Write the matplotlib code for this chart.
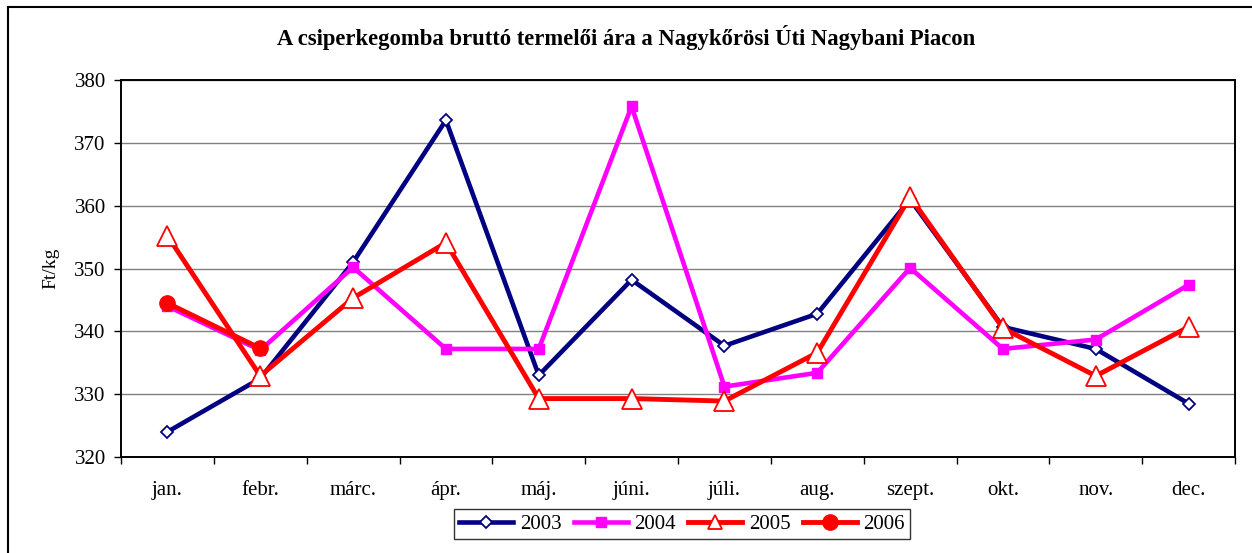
import matplotlib
matplotlib.use("Agg")
import matplotlib.pyplot as plt
from matplotlib.lines import Line2D
import numpy as np

months = ["jan.", "febr.", "márc.", "ápr.", "máj.", "júni.", "júli.", "aug.",
          "szept.", "okt.", "nov.", "dec."]
y2003 = [324.0, 332.5, 351.0, 373.6, 333.0, 348.2, 337.7, 342.8, 361.0, 340.7, 337.2, 328.5]
y2004 = [344.0, 337.0, 350.2, 337.2, 337.2, 375.8, 331.2, 333.4, 350.1, 337.2, 338.7, 347.4]
y2005 = [355.2, 332.9, 345.3, 354.1, 329.3, 329.3, 328.9, 336.6, 361.4, 340.5, 332.9, 340.7]
y2006 = [344.5, 337.3]
series_names = ["2003", "2004", "2005", "2006"]
yticks = [320, 330, 340, 350, 360, 370, 380]

plt.rcParams['font.family'] = ['Liberation Serif', 'DejaVu Serif']

W, H = 1252, 553
fig = plt.figure(figsize=(W / 100, H / 100), dpi=100)
ax = fig.add_axes([121 / W, 1 - 457 / H, (1235 - 121) / W, (457 - 80) / H])

x = np.arange(len(months))
navy = "#000080"
mag = "#FF00FF"
red = "#FF0000"

ax.plot(x, y2003, color=navy, lw=3.3, marker="D", ms=6, mfc="white", mec=navy, mew=1.3,
        label=series_names[0], zorder=3)
ax.plot(x, y2004, color=mag, lw=3.3, marker="s", ms=7.5, mfc=mag, mec=mag,
        label=series_names[1], zorder=4)
ax.plot(x, y2005, color=red, lw=3.5, marker="^", ms=15, mfc="white", mec=red, mew=1.3,
        label=series_names[2], zorder=5)
ax.plot(x[:len(y2006)], y2006, color=red, lw=3.5, marker="o", ms=11, mfc=red, mec=red,
        label=series_names[3], zorder=6)

ax.set_xlim(-0.5, len(months) - 0.5)
ax.set_ylim(320, 380)
ax.set_yticks(yticks)
ax.set_xticks(x)
ax.set_xticklabels(months)
ax.set_xticks(np.arange(-0.5, len(months)), minor=True)
ax.tick_params(axis="x", which="major", length=0, pad=17, labelsize=15)
ax.tick_params(axis="x", which="minor", length=5, width=1, direction="out")
ax.tick_params(axis="y", which="major", length=5, width=1, direction="out", pad=6, labelsize=15)
ax.yaxis.grid(True, color="#808080", lw=1)
ax.set_axisbelow(True)
for s in ax.spines.values():
    s.set_linewidth(1.4)
    s.set_color("black")

ax.set_ylabel("Ft/kg", fontsize=14, labelpad=11)

fig.text(626 / W, 1 - 38 / H, "A csiperkegomba bruttó termelői ára a Nagykőrösi Úti Nagybani Piacon",
         ha="center", va="center", fontsize=16.3, fontweight="bold")

leg = ax.legend(loc="center", bbox_to_anchor=(682 / W, 1 - 524 / H), bbox_transform=fig.transFigure,
                ncol=4, fontsize=15, frameon=True, fancybox=False, edgecolor="black",
                handlelength=2.6, handletextpad=0.3, columnspacing=0.6, borderpad=0.25,
                borderaxespad=0)
leg.get_frame().set_linewidth(1)
for h in leg.legend_handles:
    ms = h.get_markersize()
    if ms > 12:
        h.set_markersize(10)

# figure border (left and top)
fig.add_artist(Line2D([8 / W, 8 / W], [0, 1 - 7 / H], transform=fig.transFigure, color="black", lw=1.5))
fig.add_artist(Line2D([8 / W, 1], [1 - 7 / H, 1 - 7 / H], transform=fig.transFigure, color="black", lw=1.5))

fig.savefig("out.png", dpi=100)
